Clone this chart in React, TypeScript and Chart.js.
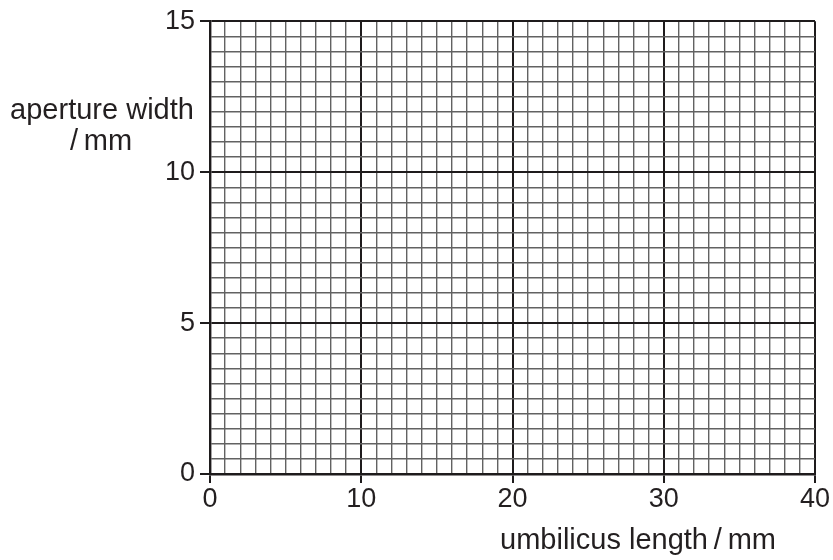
import React, { useEffect, useRef } from "react";
import { Chart, registerables } from "chart.js";

Chart.register(...registerables);

// ---- data (blank graph paper) ----
const xRange = [0, 40];
const yRange = [0, 15];
const xMajorStep = 10;
const yMajorStep = 5;
const xMinorStep = 1;
const yMinorStep = 0.5;
const xTitle = "umbilicus length\u2009/\u2009mm";
const yTitleLines = ["aperture width", "/\u2009mm"];
const points: { x: number; y: number }[] = [];

const TEXT = "#231f20";
const MAJOR = "#1e1b1c";
const MINOR = "#626262";
const FONT = "'Liberation Sans', Arial, Helvetica, sans-serif";
const FS = 27;
const TFS = 29;

const isMajor = (v: number, step: number) => Math.abs(v / step - Math.round(v / step)) < 1e-6;

const titlesPlugin = {
  id: "axisTitles",
  afterDraw(chart: any) {
    const ctx = chart.ctx;
    ctx.save();
    ctx.fillStyle = TEXT;
    ctx.font = `${TFS}px ${FONT}`;
    ctx.textAlign = "center";
    ctx.textBaseline = "middle";
    ctx.fillText(yTitleLines[0], 102, 111);
    ctx.fillText(yTitleLines[1], 101, 142);
    ctx.fillText(xTitle, 638, 541);
    ctx.restore();
  },
};

export default function App() {
  const ref = useRef<HTMLCanvasElement | null>(null);
  useEffect(() => {
    document.body.style.margin = "0";
    const canvas = ref.current!;
    const chart = new Chart(canvas, {
      type: "scatter",
      data: { datasets: [{ data: points, pointRadius: 0 }] },
      options: {
        responsive: false,
        animation: false,
        events: [],
        layout: { padding: { top: 20, right: 18, left: 0, bottom: 0 } },
        plugins: { legend: { display: false }, tooltip: { enabled: false }, title: { display: false } },
        scales: {
          x: {
            type: "linear",
            min: xRange[0],
            max: xRange[1],
            afterFit: (s: any) => {
              s.height = 86;
            },
            afterBuildTicks: (s: any) => {
              const t = [];
              for (let v = xRange[0]; v <= xRange[1] + 1e-9; v += xMinorStep) t.push({ value: v });
              s.ticks = t;
            },
            ticks: {
              autoSkip: false,
              maxRotation: 0,
              padding: 0,
              color: TEXT,
              font: { family: FONT, size: FS },
              callback: (v: any) => (isMajor(Number(v), xMajorStep) ? String(v) : ""),
            },
            grid: {
              color: (c: any) => (isMajor(c.tick.value, xMajorStep) ? MAJOR : MINOR),
              lineWidth: (c: any) => (isMajor(c.tick.value, xMajorStep) ? 2 : 1.4),
              tickColor: (c: any) => (isMajor(c.tick.value, xMajorStep) ? MAJOR : "rgba(0,0,0,0)"),
              tickLength: 9,
              drawTicks: true,
            },
            border: { display: true, color: MAJOR, width: 2.4 },
          },
          y: {
            type: "linear",
            min: yRange[0],
            max: yRange[1],
            afterFit: (s: any) => {
              s.width = 210;
            },
            afterBuildTicks: (s: any) => {
              const t = [];
              for (let v = yRange[0]; v <= yRange[1] + 1e-9; v += yMinorStep) t.push({ value: Math.round(v * 100) / 100 });
              s.ticks = t;
            },
            ticks: {
              autoSkip: false,
              padding: 5,
              color: TEXT,
              font: { family: FONT, size: FS },
              callback: (v: any) => (isMajor(Number(v), yMajorStep) ? String(v) : ""),
            },
            grid: {
              color: (c: any) => (isMajor(c.tick.value, yMajorStep) ? MAJOR : MINOR),
              lineWidth: (c: any) => (isMajor(c.tick.value, yMajorStep) ? 2 : 1.4),
              tickColor: (c: any) => (isMajor(c.tick.value, yMajorStep) ? MAJOR : "rgba(0,0,0,0)"),
              tickLength: 10,
              drawTicks: true,
            },
            border: { display: true, color: MAJOR, width: 2.4 },
          },
        },
      },
      plugins: [titlesPlugin],
    } as any);
    return () => chart.destroy();
  }, []);
  return (
    <div style={{ position: "absolute", left: 0, top: 0, width: 833, height: 560, background: "#fff" }}>
      <canvas ref={ref} width={833} height={560} style={{ width: 833, height: 560, display: "block" }} />
    </div>
  );
}
